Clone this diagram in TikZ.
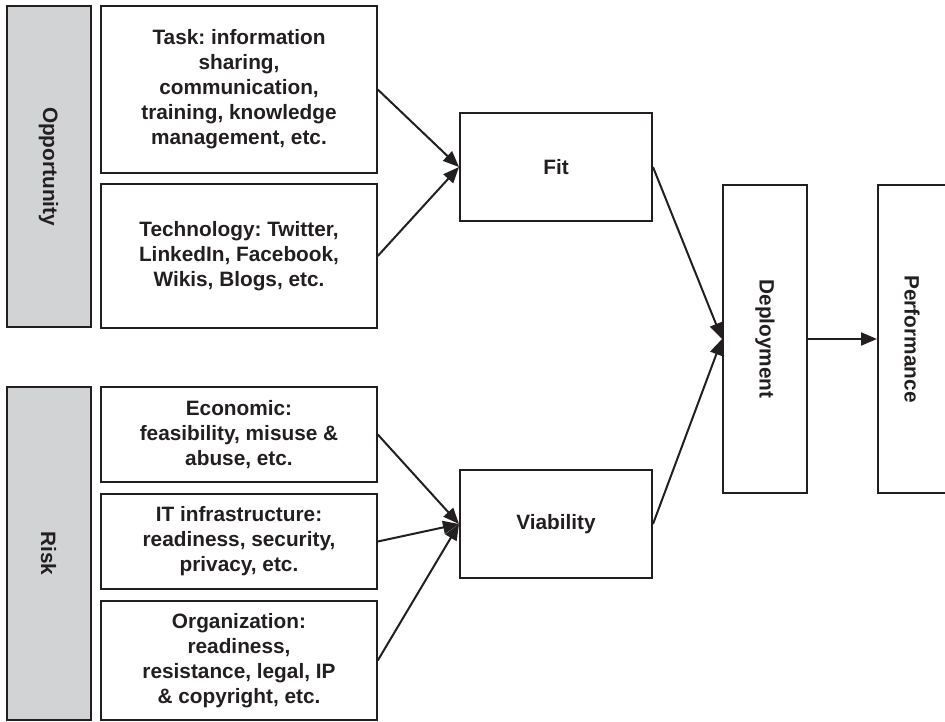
\documentclass[tikz,border=0pt]{standalone}
\usepackage{fontspec}
\setmainfont{Liberation Sans}
\usetikzlibrary{arrows.meta}
\definecolor{ink}{HTML}{231F20}
\definecolor{panel}{HTML}{D1D3D4}
\frenchspacing

\begin{document}
\begin{tikzpicture}[x=1pt,y=-1pt,
  main node/.style={rectangle,draw=ink,line width=2pt,inner sep=0pt,align=center,text=ink,
    font=\fontsize{20.8}{25}\selectfont\bfseries},
  side node/.style={main node,fill=panel,minimum width=84pt},
  item node/.style={main node,minimum width=275.5pt}]
  \useasboundingbox (0,0) rectangle (945,721);

  % grey side bars
  \node[side node,minimum height=321pt] (opp) at (48.5,166.5) {\rotatebox{-90}{Opportunity}};
  \node[side node,minimum height=333pt] (risk) at (48.5,553.5) {\rotatebox{-90}{Risk}};

  % opportunity items
  \node[item node,minimum height=167pt] (task) at (239,89.5)
    {Task: information\\sharing,\\communication,\\training, knowledge\\management, etc.};
  \node[item node,minimum height=144pt] (tech) at (239,256)
    {Technology: Twitter,\\LinkedIn, Facebook,\\Wikis, Blogs, etc.};

  % risk items
  \node[item node,minimum height=95pt] (econ) at (239,434.5)
    {Economic:\\feasibility, misuse \&\\abuse, etc.};
  \node[item node,minimum height=95pt] (infra) at (239,541.5)
    {IT infrastructure:\\readiness, security,\\privacy, etc.};
  \node[item node,minimum height=119pt] (org) at (239,660.5)
    {Organization:\\readiness,\\resistance, legal, IP\\\& copyright, etc.};

  \node[main node,minimum width=192pt,minimum height=108pt] (fit) at (556,167) {Fit};
  \node[main node,minimum width=192pt,minimum height=108pt] (viab) at (556,524) {Viability};
  \node[main node,minimum width=84pt,minimum height=308pt] (dep) at (765,339) {\rotatebox{-90}{Deployment}};
  \node[main node,minimum width=68pt,minimum height=308pt] (perf) at (912,339) {\rotatebox{-90}{Performance}};

  \path[ink,line width=2pt,-{Triangle[length=16pt,width=13pt]}]
   (task.east) edge (fit.west)
   (tech.east) edge (fit.west)
   (econ.east) edge (viab.west)
   (infra.east) edge (viab.west)
   (org.east) edge (viab.west)
   (fit.east) edge (dep.west)
   (viab.east) edge (dep.west)
   (dep.east) edge (perf.west);
\end{tikzpicture}
\end{document}
